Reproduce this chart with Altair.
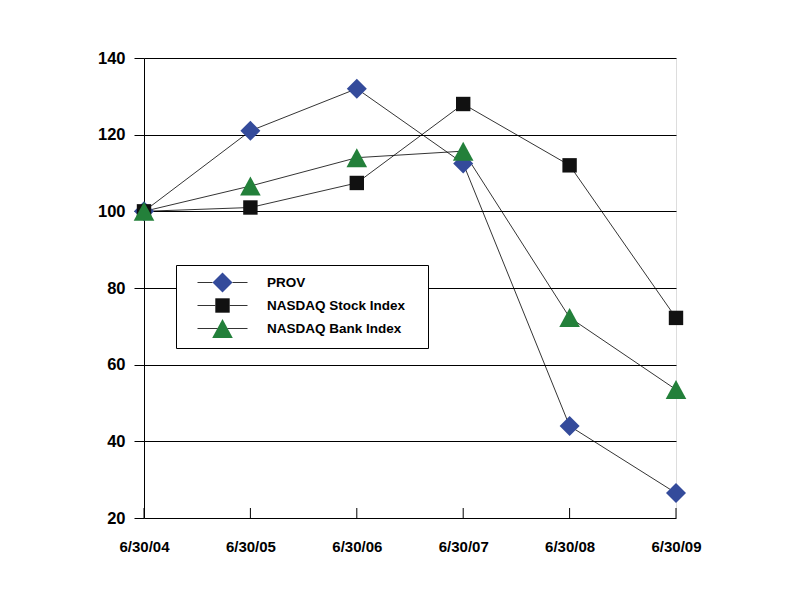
import altair as alt
import pandas as pd

dates = ["6/30/04", "6/30/05", "6/30/06", "6/30/07", "6/30/08", "6/30/09"]
prov = [100, 121, 132, 112.5, 44, 26.5]
nasdaq_stock = [100, 101, 107.4, 128, 112, 72.2]
nasdaq_bank = [100, 106.6, 114, 115.7, 72.3, 53.5]
series_names = ["PROV", "NASDAQ Stock Index", "NASDAQ Bank Index"]
series_colors = ["#344b9b", "#111111", "#23803a"]
y_ticks = [20, 40, 60, 80, 100, 120, 140]

rows = []
for name, vals in zip(series_names, [prov, nasdaq_stock, nasdaq_bank]):
    for d, v in zip(dates, vals):
        rows.append({"date": d, "value": v, "series": name})
df = pd.DataFrame(rows)

marker_paths = [
    "M-1,0L0,-1L1,0L0,1Z",
    "M-0.72,-0.72L0.72,-0.72L0.72,0.72L-0.72,0.72Z",
    "M0,-0.95L1.03,0.95L-1.03,0.95Z",
]
# move-to points only (nothing drawn): fix every legend symbol's extent
EXTENT_WIDE = "M-2.5,-1M19.6,1"
EXTENT = "M-2.5,-1M2.5,1"
legend_marker_paths = [EXTENT_WIDE + p for p in marker_paths]
legend_line_paths = [
    EXTENT + "M-2.5,0L-1,0M1,0L2.5,0",
    EXTENT + "M-2.5,0L-0.72,0M0.72,0L2.5,0",
    EXTENT + "M-2.5,0L-0.5,0M0.5,0L2.5,0",
]

FONT = "Liberation Sans"

x_enc = alt.X(
    "date:O",
    sort=dates,
    scale=alt.Scale(type="point", padding=0),
    axis=alt.Axis(
        title=None, labelAngle=0, tickSize=0, domain=False, grid=False,
        labelFont=FONT, labelFontSize=15, labelFontWeight="bold",
        labelPadding=21, labelColor="black",
    ),
)
y_enc = alt.Y(
    "value:Q",
    scale=alt.Scale(domain=[20, 140], nice=False, zero=False),
    axis=alt.Axis(
        title=None, values=y_ticks, tickSize=10, tickColor="black", tickWidth=1,
        domainColor="black", domainWidth=1, grid=True, gridColor="black",
        gridWidth=1, gridOpacity=1, labelFont=FONT, labelFontSize=16.5,
        labelFontWeight="bold", labelPadding=9, labelColor="black",
    ),
)

base = alt.Chart(df)

lines = base.mark_line(color="black", strokeWidth=0.8).encode(
    x=x_enc, y=y_enc, detail="series:N"
)

points = base.mark_point(filled=True, size=400, opacity=1).encode(
    x=x_enc,
    y=y_enc,
    shape=alt.Shape("series:N", scale=alt.Scale(domain=series_names, range=marker_paths), legend=None),
    color=alt.Color("series:N", scale=alt.Scale(domain=series_names, range=series_colors), legend=None),
)

common = dict(
    title=None, orient="none", legendX=32, legendY=207, direction="vertical",
    padding=7, symbolOffset=29, labelOffset=34, labelFont=FONT,
    labelFontSize=13.5, labelFontWeight="bold", rowPadding=-3, gridAlign="all",
    symbolSize=400, symbolOpacity=1, symbolStrokeWidth=0.8,
)

# underneath: white box with frame, coloured markers and labels
legend_under = alt.Legend(
    strokeColor="black", fillColor="white", labelColor="black", zindex=1, **common,
)
# on top: black connector lines through the markers (no labels)
legend_over = alt.Legend(labelExpr="''", zindex=2, **common)

legend_under_layer = base.transform_filter("false").mark_point(
    filled=True, size=400, opacity=1
).encode(
    x=x_enc,
    y=y_enc,
    shape=alt.Shape("series:N", scale=alt.Scale(domain=series_names, range=legend_marker_paths), legend=legend_under),
    color=alt.Color("series:N", scale=alt.Scale(domain=series_names, range=series_colors), legend=legend_under),
)

legend_over_layer = base.transform_filter("false").mark_point(
    filled=False, color="black", strokeWidth=0.8, size=400, opacity=1
).encode(
    x=x_enc,
    y=y_enc,
    shape=alt.Shape("series:N", scale=alt.Scale(domain=series_names, range=legend_line_paths), legend=legend_over),
)

ticks = alt.Chart(pd.DataFrame({"date": dates})).mark_rule(
    color="black", strokeWidth=1, y2Offset=-10
).encode(x=alt.X("date:O", sort=dates), y=alt.datum(20), y2=alt.datum(20))

chart = (
    alt.layer(lines, ticks, points, legend_under_layer, legend_over_layer)
    .resolve_scale(shape="independent", color="independent")
    .properties(width=532, height=460, padding={"left": 89, "top": 42, "right": 0, "bottom": 0})
    .configure_view(stroke="black", strokeWidth=1)
    .configure_legend(rowPadding=-3)
    .configure(background="white")
)

chart.save("out.html", embed_options={"renderer": "svg", "actions": False})
